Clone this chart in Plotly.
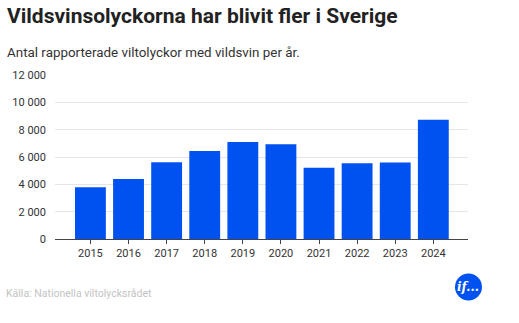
import plotly.graph_objects as go

years = ["2015", "2016", "2017", "2018", "2019", "2020", "2021", "2022", "2023", "2024"]
accidents = [3780, 4390, 5610, 6440, 7100, 6930, 5220, 5540, 5590, 8730]
y_ticks = [0, 2000, 4000, 6000, 8000, 10000, 12000]
y_tick_labels = ["0", "2 000", "4 000", "6 000", "8 000", "10 000", "12 000"]

title_text = "Vildsvinsolyckorna har blivit fler i Sverige"
subtitle_text = "Antal rapporterade viltolyckor med vildsvin per år."
source_text = "Källa: Nationella viltolycksrådet"

W, H = 519, 323
L, R, T, B = 55, 51, 75, 84

fig = go.Figure(go.Bar(
    x=list(range(len(years))), y=accidents,
    marker=dict(color="#0052F0", line=dict(width=0)),
    width=0.81,
    hoverinfo="skip",
))

fig.update_layout(
    width=W, height=H,
    margin=dict(l=L, r=R, t=T, b=B),
    paper_bgcolor="white", plot_bgcolor="white",
    showlegend=False,
    font=dict(family="Roboto", color="#333333", size=11),
    xaxis=dict(
        range=[-0.93, 9.91],
        tickmode="array", tickvals=list(range(len(years))), ticktext=years,
        showgrid=False, zeroline=False,
        showline=True, linecolor="#444444", linewidth=1,
        ticks="outside", ticklen=4, tickcolor="#444444",
        tickfont=dict(size=11, color="#333333"),
        fixedrange=True,
    ),
    yaxis=dict(
        range=[0, 12000],
        tickmode="array", tickvals=y_ticks, ticktext=y_tick_labels,
        showgrid=True, gridcolor="#e6e6e6", gridwidth=1,
        zeroline=False, showline=False,
        ticks="", ticklabelstandoff=8,
        tickfont=dict(size=11, color="#333333"),
        fixedrange=True,
    ),
    annotations=[
        dict(text="<b>" + title_text + "</b>", xref="paper", yref="paper",
             x=-L / (W - L - R) + 5 / (W - L - R), y=1 + (T - 15.5) / (H - T - B),
             xanchor="left", yanchor="middle", showarrow=False,
             font=dict(family="Roboto", size=21, color="#222222")),
        dict(text=subtitle_text, xref="paper", yref="paper",
             x=-L / (W - L - R) + 5 / (W - L - R), y=1 + (T - 53) / (H - T - B),
             xanchor="left", yanchor="middle", showarrow=False,
             font=dict(family="Roboto", size=13.4, color="#333333")),
        dict(text=source_text, xref="paper", yref="paper",
             x=-L / (W - L - R) + 4 / (W - L - R), y=-(293 - (H - B)) / (H - T - B),
             xanchor="left", yanchor="middle", showarrow=False,
             font=dict(family="Roboto", size=10.5, color="#c4c4c4")),
        dict(text="<b><i>if...</i></b>", xref="paper", yref="paper",
             x=(468.5 - L) / (W - L - R), y=-(287 - (H - B)) / (H - T - B),
             xanchor="center", yanchor="middle", showarrow=False,
             font=dict(family="DejaVu Serif", size=12, color="white")),
    ],
    shapes=[
        dict(type="circle", xref="paper", yref="paper",
             x0=(455 - L) / (W - L - R), x1=(482 - L) / (W - L - R),
             y0=-(300.5 - (H - B)) / (H - T - B), y1=-(273.5 - (H - B)) / (H - T - B),
             fillcolor="#0052F0", line=dict(width=0), layer="above"),
    ],
)

fig.write_html("out.html", config={"displayModeBar": False})
